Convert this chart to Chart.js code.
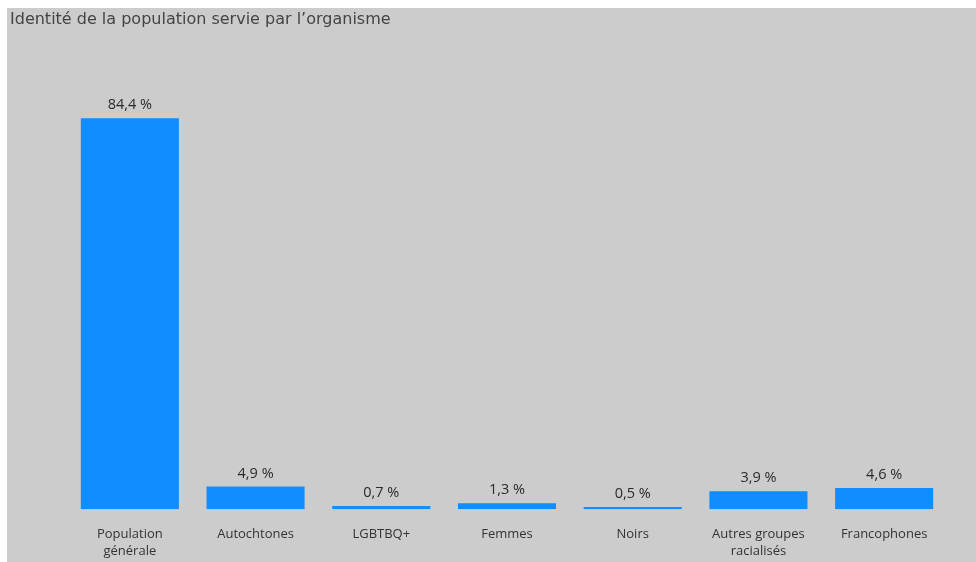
<!DOCTYPE html>
<html>
<head>
<meta charset="utf-8">
<script src="https://cdn.jsdelivr.net/npm/chart.js@4"></script>
<style>
  body { margin: 0; background: #fff; }
  #panel { position: absolute; left: 7px; top: 8px; width: 969px; height: 554px; background: #cccccc; overflow: hidden; }
  #title { position: absolute; left: 3px; top: 1px; font: 16px "DejaVu Sans", sans-serif; color: #444; }
  #wrap { position: absolute; left: 0; top: 0; width: 969px; height: 561px; }
</style>
</head>
<body>
<div id="panel">
  <div id="wrap"><canvas id="chart"></canvas></div>
  <div id="title">Identité de la population servie par l’organisme</div>
</div>
<script>
'use strict';

const categories = [
  ['Population', 'générale'],
  'Autochtones',
  'LGBTBQ+',
  'Femmes',
  'Noirs',
  ['Autres groupes', 'racialisés'],
  'Francophones'
];
const shares = [84.4, 4.9, 0.7, 1.3, 0.5, 3.9, 4.6];

function fmt(v) {
  return v.toFixed(1).replace('.', ',') + ' %';
}

// value labels above each bar
const barLabels = {
  id: 'barLabels',
  afterDatasetsDraw(chart) {
    const ctx = chart.ctx;
    const meta = chart.getDatasetMeta(0);
    ctx.save();
    ctx.font = '14.5px "Open Sans", sans-serif';
    ctx.fillStyle = '#2a2a2a';
    ctx.textAlign = 'center';
    ctx.textBaseline = 'middle';
    meta.data.forEach((bar, i) => {
      ctx.fillText(fmt(shares[i]), bar.x, bar.y - 13);
    });
    ctx.restore();
  }
};

const canvasElem = document.getElementById('chart');

new Chart(canvasElem, {
  type: 'bar',
  data: {
    labels: categories,
    datasets: [{
      data: shares,
      backgroundColor: '#118dff',
      borderWidth: 0,
      barPercentage: 0.78,
      categoryPercentage: 1
    }]
  },
  options: {
    responsive: true,
    maintainAspectRatio: false,
    animation: false,
    layout: { padding: { top: 38, left: 60, right: 29, bottom: 0 } },
    plugins: {
      legend: { display: false },
      tooltip: { enabled: false }
    },
    scales: {
      x: {
        grid: { display: false },
        border: { display: false },
        ticks: {
          color: '#333',
          padding: 9,
          maxRotation: 0,
          autoSkip: false,
          font: { family: '"Open Sans", sans-serif', size: 13, lineHeight: 1.3 }
        }
      },
      y: {
        display: false,
        min: 0,
        max: 100
      }
    }
  },
  plugins: [barLabels]
});
</script>
</body>
</html>
